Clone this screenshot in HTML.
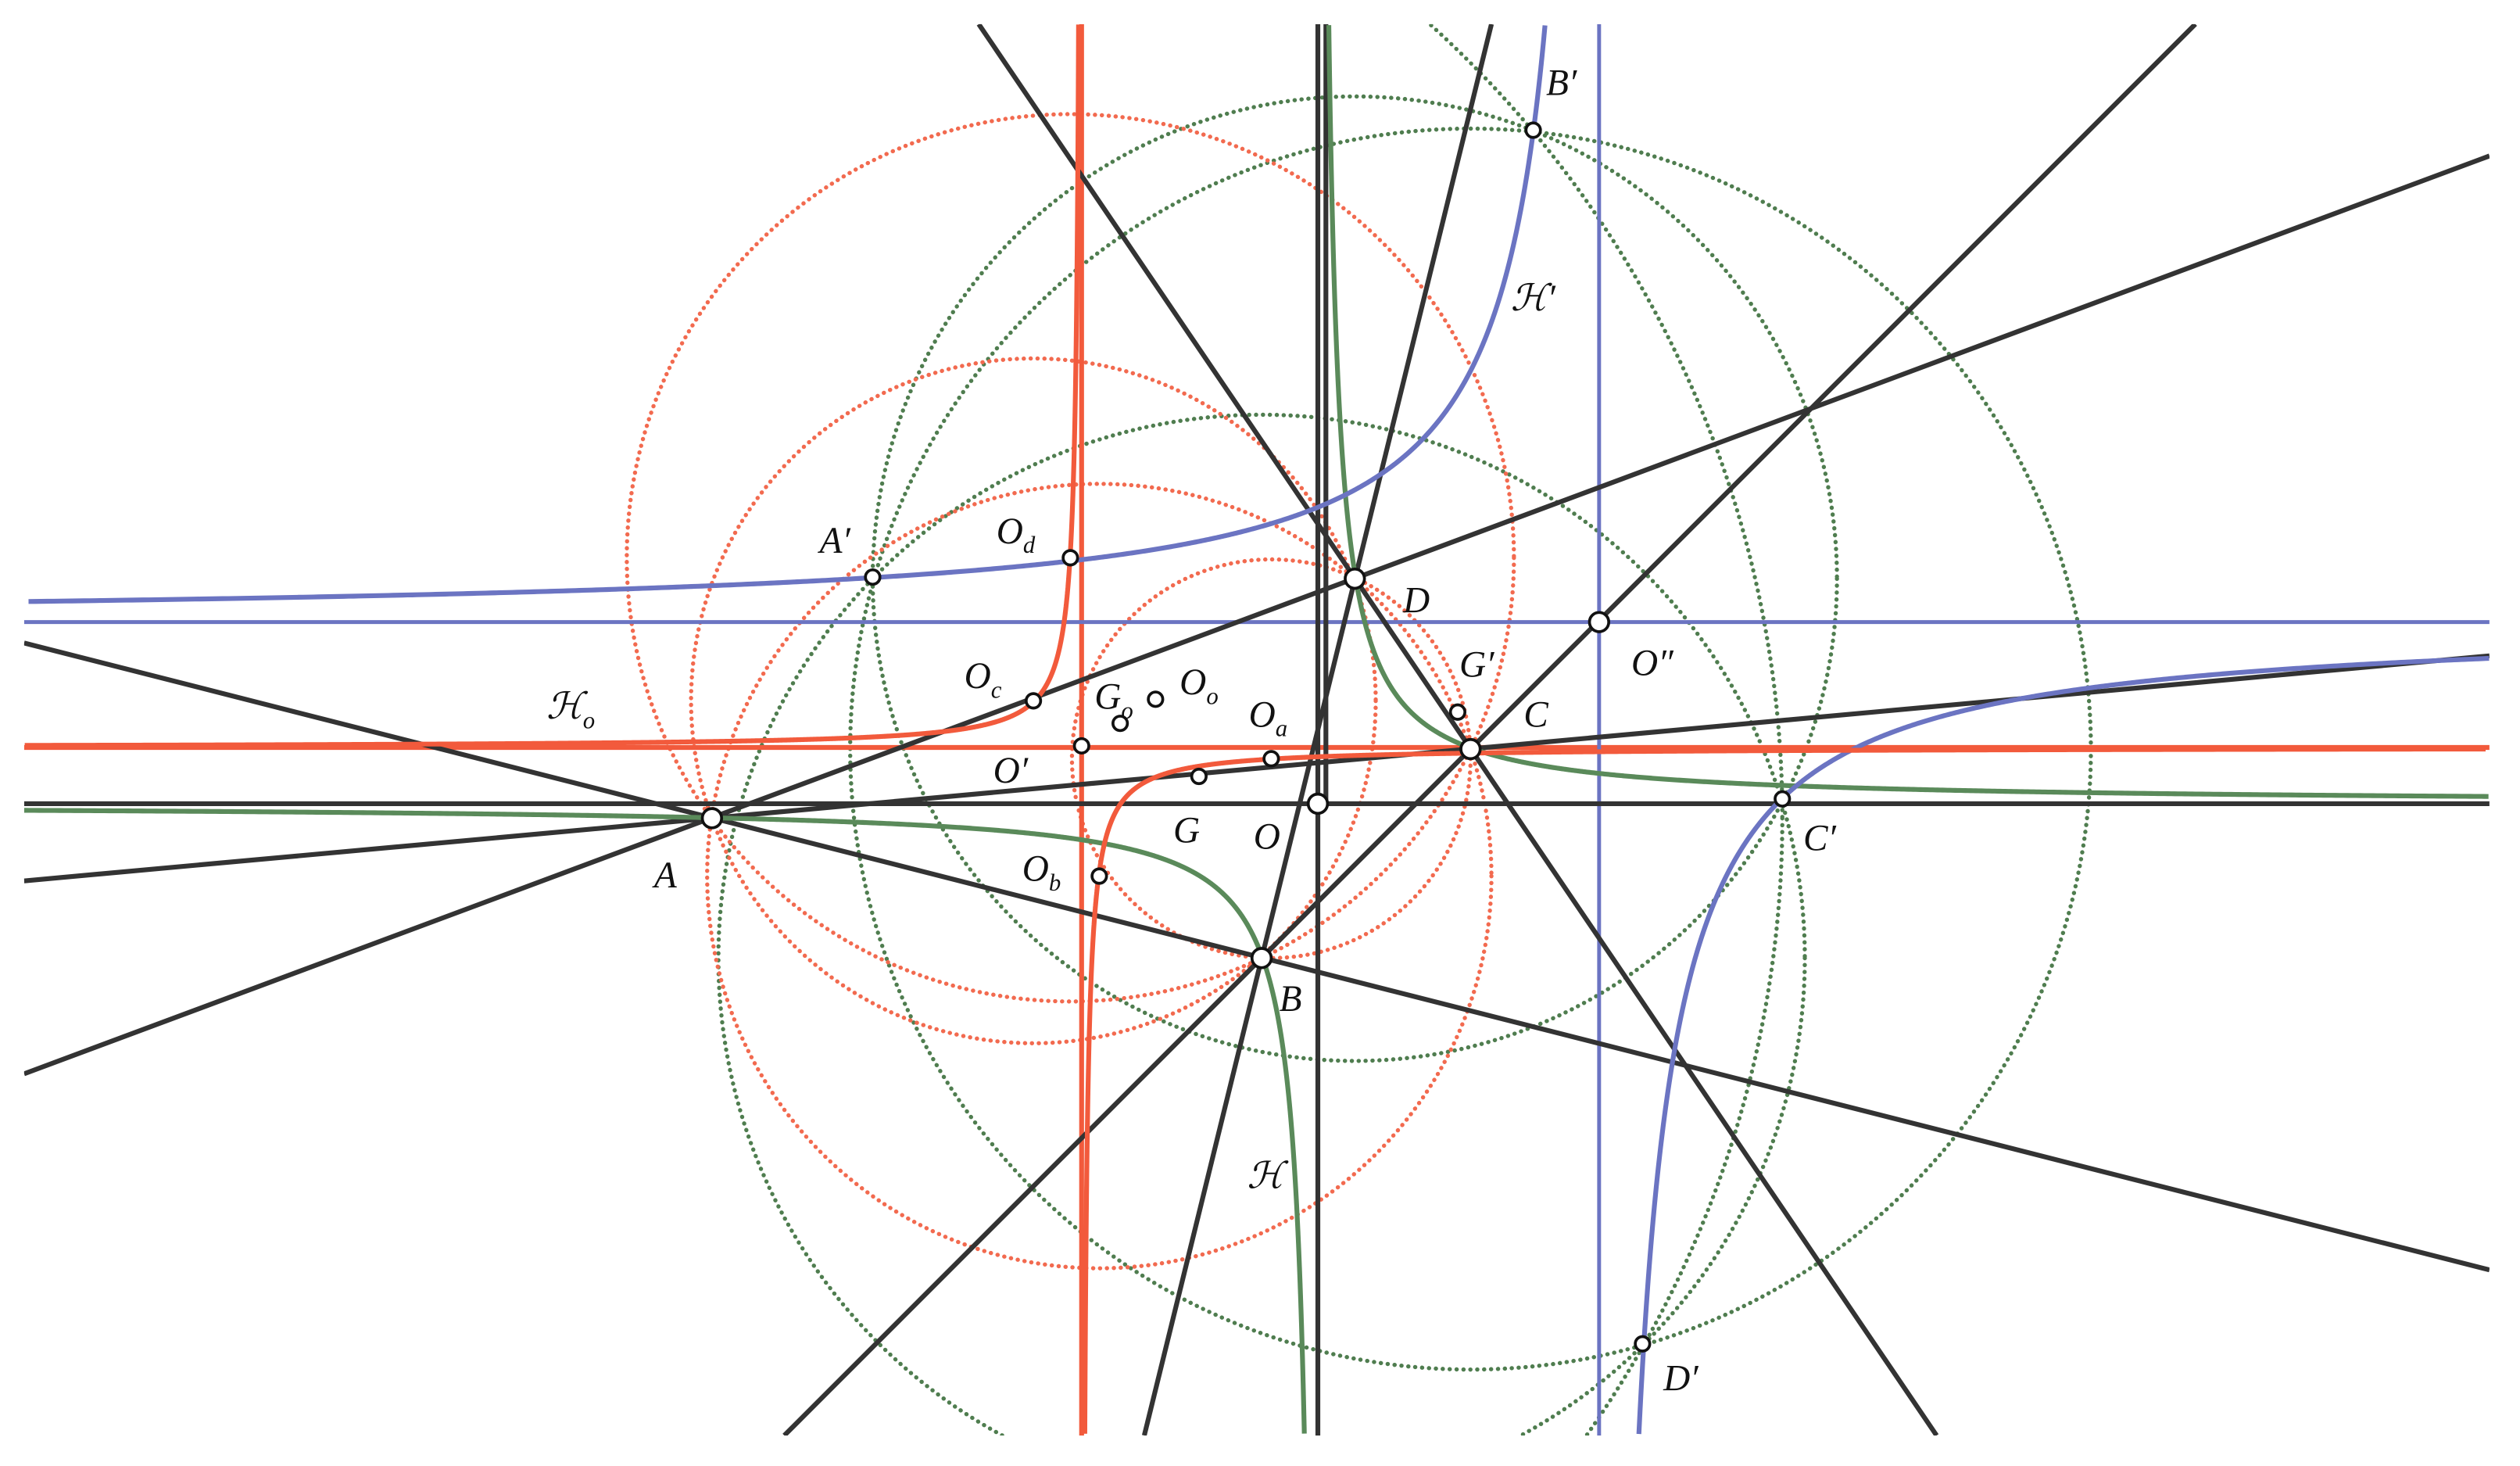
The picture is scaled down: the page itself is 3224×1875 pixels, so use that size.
<!DOCTYPE html>
<html><head><meta charset="utf-8"><style>
html,body{margin:0;padding:0;background:#fff;overflow:hidden;width:3224px;height:1875px;position:relative}
svg{display:block;position:absolute;left:0;top:0}
text{font-family:"Liberation Serif","DejaVu Serif",serif;font-style:italic;font-size:23px;fill:#111}
</style></head><body>
<svg id="s" width="3224" height="1875" viewBox="0 0 1568 912" preserveAspectRatio="none" xmlns="http://www.w3.org/2000/svg" overflow="hidden">
<defs><clipPath id="c"><rect x="15" y="15" width="1534" height="878"/></clipPath></defs>
<rect width="1568" height="912" fill="#fff"/>
<g clip-path="url(#c)">
<g id="dots" fill="none" stroke-width="2.6" stroke-linecap="round" stroke-dasharray="0.1 4.2">
<g id="gdots" stroke="#4f7d4f">
<circle cx="843" cy="360" r="300"/>
<circle cx="915" cy="466" r="386"/>
</g>
<g stroke="#f26a4f">
<circle cx="791" cy="472" r="124"/>
<circle cx="684" cy="545" r="244"/>
<circle cx="643" cy="436" r="213"/>
<circle cx="666" cy="347" r="276"/>
</g>
</g>
<g stroke="#f25a3c" stroke-width="3" fill="none">
<line x1="673" y1="15" x2="673" y2="893"/>
<line x1="15" y1="465" x2="1549" y2="465"/>
</g>
<g stroke="#6b74c2" stroke-width="2.4" fill="none">
<line x1="995" y1="15" x2="995" y2="893"/>
<line x1="15" y1="387" x2="1549" y2="387"/>
</g>
<g stroke="#333" stroke-width="3" fill="none">
<line x1="15" y1="500" x2="1549" y2="500"/>
<line x1="820" y1="15" x2="820" y2="893"/>
<line x1="825" y1="15" x2="825" y2="500"/>
<line x1="15" y1="668" x2="1549" y2="97"/>
<line x1="15" y1="548" x2="1549" y2="408"/>
<line x1="15" y1="400" x2="1549" y2="790"/>
<line x1="712" y1="893" x2="928" y2="15"/>
<line x1="488" y1="893" x2="1366" y2="15"/>
<line x1="609" y1="15" x2="1205" y2="893"/>
</g>
<g id="hyp" fill="none" stroke-width="3"></g>
</g>
<g fill="#fff" stroke="#111" stroke-width="1.8">
<circle cx="443" cy="509" r="6"/><circle cx="785" cy="596" r="6"/><circle cx="915" cy="466" r="6"/>
<circle cx="843" cy="360" r="6"/><circle cx="820" cy="500" r="6"/><circle cx="995" cy="387" r="6"/>
<circle cx="543" cy="359" r="4.5"/><circle cx="954" cy="81" r="4.5"/><circle cx="1109" cy="497" r="4.5"/>
<circle cx="1022" cy="836" r="4.5"/><circle cx="673" cy="464" r="4.5"/><circle cx="746" cy="483" r="4.5"/>
<circle cx="791" cy="472" r="4.5"/><circle cx="684" cy="545" r="4.5"/><circle cx="643" cy="436" r="4.5"/>
<circle cx="666" cy="347" r="4.5"/><circle cx="907" cy="443" r="4.5"/><circle cx="697" cy="450" r="4.5"/>
<circle cx="719" cy="435" r="4.5"/>
</g>
<text x="510" y="344">A′</text>
<text x="620" y="338">O<tspan font-size="15" dy="6">d</tspan></text>
<text x="873" y="381">D</text>
<text x="1015" y="420">O″</text>
<text x="908" y="421">G′</text>
<text x="948" y="452">C</text>
<text x="600" y="428">O<tspan font-size="15" dy="6">c</tspan></text>
<text x="681" y="441">G<tspan font-size="15" dy="6">o</tspan></text>
<text x="734" y="432">O<tspan font-size="15" dy="6">o</tspan></text>
<text x="777" y="452">O<tspan font-size="15" dy="6">a</tspan></text>
<text x="618" y="487">O′</text>
<text x="730" y="524">G</text>
<text x="780" y="528">O</text>
<text x="407" y="552">A</text>
<text x="636" y="548">O<tspan font-size="15" dy="6">b</tspan></text>
<text x="796" y="629">B</text>
<text x="940" y="193">ℋ′</text>
<text x="340" y="447">ℋ<tspan font-size="15" dy="6">o</tspan></text>
<text x="776" y="739">ℋ</text>
<text x="962" y="59">B′</text>
<text x="1122" y="529">C′</text>
<text x="1035" y="865">D′</text>
</svg>
<script>
(function(){
var NS='http://www.w3.org/2000/svg';
function inb(x,y){return x>=15&&x<=1549&&y>=15&&y<=893;}
function poly(pts,parent,col){
 var d='',pen=false;
 for(var i=0;i<pts.length;i++){var x=pts[i][0],y=pts[i][1];
  if(inb(x,y)){d+=(pen?'L':'M')+x.toFixed(2)+' '+y.toFixed(2);pen=true;}else pen=false;}
 var p=document.createElementNS(NS,'path');p.setAttribute('d',d);
 if(col)p.setAttribute('stroke',col);parent.appendChild(p);
}
var g=document.getElementById('hyp');
function br(xa,ya,s,sx,sy,col){
 var pts=[];
 for(var i=0;i<=3000;i++){var t=-6+12*i/3000;
  pts.push([xa+sx*s*Math.exp(t),ya+sy*s*Math.exp(-t)]);}
 poly(pts,g,col);
}
var sg=Math.sqrt(3300),sb=Math.sqrt(12500),sr=Math.sqrt(850);
br(820,500,sg,1,-1,'#5a8a5a');br(820,500,sg,-1,1,'#5a8a5a');
br(995,387,sb,-1,-1,'#6b74c2');br(995,387,sb,1,1,'#6b74c2');
br(673,465,sr,-1,-1,'#f25a3c');br(673,465,sr,1,1,'#f25a3c');
var gd=document.getElementById('gdots');
function circ(cx,cy,r){var pts=[];for(var i=0;i<=4000;i++){var a=2*Math.PI*i/4000;pts.push([cx+r*Math.cos(a),cy+r*Math.sin(a)]);}poly(pts,gd,null);}
circ(443,509,666);circ(785,596,338);
})();
</script>
</body></html>
